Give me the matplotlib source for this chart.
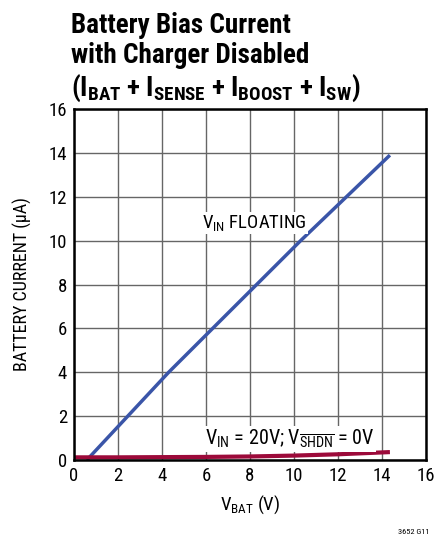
import matplotlib
matplotlib.use("Agg")
import matplotlib.pyplot as plt
from matplotlib import font_manager

# V_IN floating curve
vbat_float = [0.58, 4.3, 10.3, 14.36]
ibat_float = [0.0, 4.0, 10.0, 13.9]

# V_IN = 20V, SHDN = 0V curve
vbat_shdn = [0.0, 2.0, 4.0, 6.0, 8.0, 10.0, 12.0, 14.36]
ibat_shdn = [0.12, 0.12, 0.13, 0.14, 0.16, 0.2, 0.26, 0.36]

xticks = list(range(0, 17, 2))
yticks = list(range(0, 17, 2))

names = {f.name for f in font_manager.fontManager.ttflist}
fam = 'Liberation Sans'
for cand in ['Roboto Condensed', 'IBM Plex Sans Condensed', 'Fira Sans Condensed', 'Liberation Sans']:
    if cand in names:
        fam = cand
        break

plt.rcParams['font.family'] = [fam, 'DejaVu Sans']
plt.rcParams['mathtext.fontset'] = 'custom'
plt.rcParams['mathtext.rm'] = fam
plt.rcParams['mathtext.it'] = fam
plt.rcParams['mathtext.bf'] = fam + ':bold'

fig = plt.figure(figsize=(4.36, 5.39), dpi=100)
ax = fig.add_axes([0.170, 0.1466, 0.807, 0.651])

ax.plot(vbat_float, ibat_float, color='#3a55a8', lw=2.5, solid_capstyle='butt')
ax.plot(vbat_shdn, ibat_shdn, color='#9c0a3a', lw=3, solid_capstyle='butt')

ax.set_xlim(0, 16)
ax.set_ylim(0, 16)
ax.set_xticks(xticks)
ax.set_yticks(yticks)
ax.tick_params(length=0, labelsize=13.5, pad=5)
ax.grid(True, color='#666666', lw=1)
ax.set_axisbelow(True)
for s in ax.spines.values():
    s.set_linewidth(1.8)

ax.set_xlabel(r'V$_{\mathrm{BAT}}$ (V)', fontsize=13.5, labelpad=6)
ax.set_ylabel('BATTERY CURRENT (µA)', fontsize=13, labelpad=12)

ax.text(8.2, 10.8, r'V$_{\mathrm{IN}}$ FLOATING', fontsize=13.5, ha='center', va='center',
        bbox=dict(facecolor='white', edgecolor='none', pad=1))
ax.text(9.8, 0.95, r'V$_{\mathrm{IN}}$ = 20V; V$_{\overline{\mathrm{SHDN}}}$ = 0V', fontsize=14.5,
        ha='center', va='center', bbox=dict(facecolor='white', edgecolor='none', pad=1))

fig.text(0.163, 0.978, 'Battery Bias Current\nwith Charger Disabled\n'
         r'(I$_{\mathbf{BAT}}$ + I$_{\mathbf{SENSE}}$ + I$_{\mathbf{BOOST}}$ + I$_{\mathbf{SW}}$)',
         fontsize=19.5, fontweight='bold', ha='left', va='top', linespacing=1.15)

fig.text(0.985, 0.008, '3652 G11', fontsize=6, ha='right', va='bottom')

fig.savefig('out.png', dpi=100)
